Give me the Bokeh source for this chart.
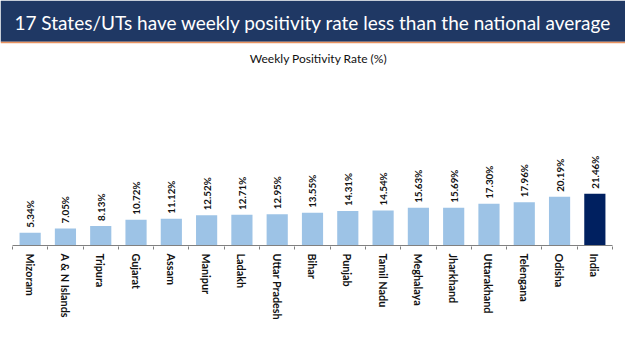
from math import pi
from bokeh.plotting import figure
from bokeh.models import (ColumnDataSource, Range1d, LinearAxis,
                          FixedTicker, LabelSet, Label)
from bokeh.core.properties import value
from bokeh.embed import file_html
from bokeh.resources import INLINE

states = ["Mizoram", "A & N Islands", "Tripura", "Gujarat", "Assam", "Manipur",
          "Ladakh", "Uttar Pradesh", "Bihar", "Punjab", "Tamil Nadu", "Meghalaya",
          "Jharkhand", "Uttarakhand", "Telengana", "Odisha", "India"]
rates = [5.34, 7.05, 8.13, 10.72, 11.12, 12.52, 12.71, 12.95, 13.55, 14.31,
         14.54, 15.63, 15.69, 17.30, 17.96, 20.19, 21.46]
labels = ["%.2f%%" % v for v in rates]
colors = ["#9DC3E6"] * (len(states) - 1) + ["#002060"]

title_text = "17 States/UTs have weekly positivity rate less than the national average"
subtitle_text = "Weekly Positivity Rate (%)"

NAVY = "#1F3864"
W, H = 625, 351
BOTTOM = 105                 # space for the category labels
FRAME_H = H - BOTTOM         # 246 px
PX_PER_UNIT_Y = 2.42
LEFT_PAD, RIGHT_PAD = 12, 13

n = len(states)
idx = list(range(n))
ux = (W - LEFT_PAD - RIGHT_PAD) / n
x0 = -0.5 - LEFT_PAD / ux
x1 = n - 0.5 + RIGHT_PAD / ux
y_top = FRAME_H / PX_PER_UNIT_Y
y_bot = -1 / PX_PER_UNIT_Y


def ypix(py):
    """data y for a pixel row measured from the top of the page"""
    return (FRAME_H - py) / PX_PER_UNIT_Y


def xpix(px):
    return x0 + px / ux


src = ColumnDataSource(dict(i=idx, state=states, rate=rates, label=labels, color=colors))
p = figure(width=W, height=H, x_range=Range1d(x0, x1), y_range=Range1d(y_bot, y_top),
           output_backend="svg", toolbar_location=None,
           x_axis_location=None, y_axis_location=None,
           min_border_left=0, min_border_right=0, min_border_top=0,
           min_border_bottom=BOTTOM)
p.outline_line_color = None
p.grid.visible = False
p.background_fill_color = "white"
p.border_fill_color = "white"

# header band
p.quad(left=[x0], right=[x1], bottom=[ypix(41.5)], top=[y_top], color=NAVY, line_color=None)
p.quad(left=[x0], right=[x1], bottom=[ypix(43)], top=[ypix(41.5)], color="#E9935F",
       line_color=None)
p.add_layout(Label(x=xpix(W / 2), y=ypix(22), text=title_text, text_align="center",
                   text_baseline="middle", text_color="white",
                   text_font="Lato", text_font_size="19px"))

p.add_layout(Label(x=xpix(318), y=ypix(58), text=subtitle_text,
                   text_align="center", text_baseline="middle", text_font="Lato",
                   text_font_size="12px", text_color="#111111"))

# bars
p.vbar(x="i", top="rate", width=0.6, color="color", line_color=None, source=src)
p.segment(x0=[-0.5], x1=[n - 0.5], y0=[0], y1=[0], line_color="#808080", line_width=1)

p.add_layout(LabelSet(x="i", y="rate", text="label", source=src, angle=pi / 2,
                      text_align="left", text_baseline="middle", y_offset=5,
                      text_font=value("Lato"), text_font_style="bold",
                      text_font_size="9.8px", text_color="#111111"))

axis = LinearAxis(ticker=FixedTicker(ticks=idx,
                                     minor_ticks=[i - 0.5 for i in range(n + 1)]),
                  major_label_overrides={i: s for i, s in enumerate(states)})
axis.major_label_orientation = "vertical"
axis.major_tick_line_color = None
axis.major_tick_out = 0
axis.major_tick_in = 0
axis.minor_tick_out = 3
axis.minor_tick_in = 0
axis.minor_tick_line_color = "#808080"
axis.axis_line_color = None
axis.major_label_standoff = 4
axis.major_label_text_font = "Lato"
axis.major_label_text_font_style = "bold"
axis.major_label_text_font_size = "10.8px"
axis.major_label_text_color = "#111111"
p.add_layout(axis, "below")

open("out.html", "w").write(file_html(p, INLINE))
